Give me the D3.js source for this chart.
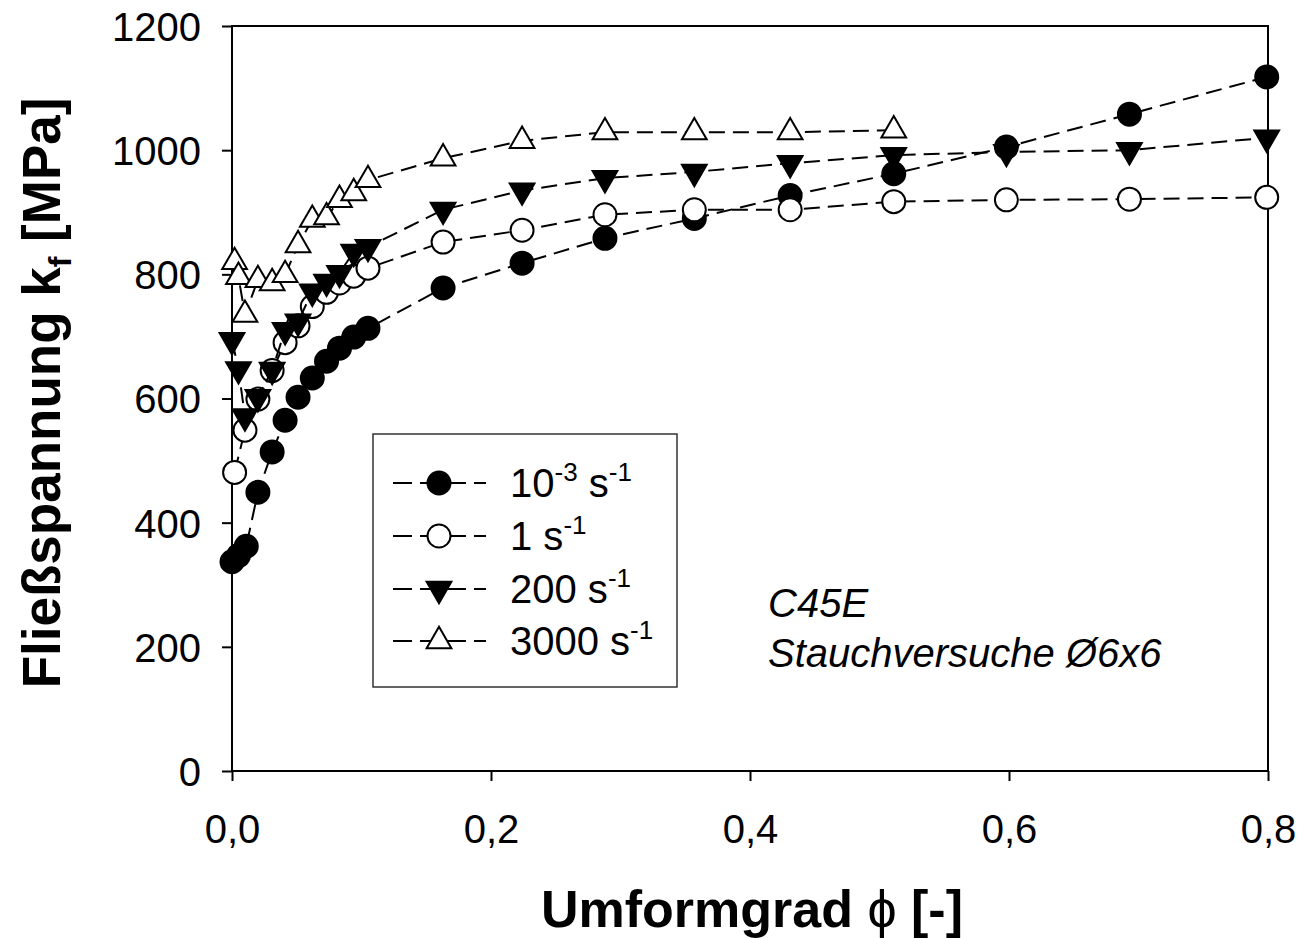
<!DOCTYPE html>
<html><head><meta charset="utf-8">
<script src="https://cdn.jsdelivr.net/npm/d3@7"></script>
<style>
body{margin:0;background:#fff}
svg{display:block}
text{font-family:"Liberation Sans",Arial,sans-serif;fill:#000}
</style>
</head><body>
<svg id="c" width="1302" height="938"></svg>
<script>
// ---- data ----
const xTicks=[0,0.2,0.4,0.6,0.8];
const xTickLabels=["0,0","0,2","0,4","0,6","0,8"];
const yTicks=[0,200,400,600,800,1000,1200];
const yTickLabels=["0","200","400","600","800","1000","1200"];

const legendBase=["10","1","200","3000"];
const legendExp=["-3","","",""];

const phiRate1=[0.000,0.005,0.011,0.020,0.031,0.041,0.051,0.062,0.073,0.083,0.094,0.105,0.163,0.224,0.288,0.357,0.431,0.511,0.598,0.693,0.799];
const kfRate1 =[337,347,362,449,514,565,602,633,660,681,699,713,778,818,858,890,927,962,1005,1058,1118];

const phiRate2=[0.002,0.010,0.020,0.031,0.041,0.051,0.062,0.073,0.083,0.094,0.105,0.163,0.224,0.288,0.357,0.431,0.511,0.598,0.693,0.799];
const kfRate2 =[481,549,599,645,690,717,748,771,786,797,810,852,871,896,904,904,917,920,921,924];

const phiRate3=[0.000,0.005,0.010,0.020,0.031,0.041,0.051,0.062,0.073,0.083,0.094,0.105,0.163,0.224,0.288,0.357,0.431,0.511,0.598,0.693,0.799];
const kfRate3 =[694,647,571,602,646,710,724,772,788,802,836,844,904,935,955,965,979,992,997,1000,1020];

const phiRate4=[0.002,0.005,0.010,0.020,0.031,0.041,0.051,0.062,0.073,0.083,0.094,0.105,0.163,0.224,0.288,0.357,0.431,0.511];
const kfRate4 =[820,796,735,791,786,799,847,888,892,920,931,952,987,1015,1029,1029,1029,1032];

// ---- drawing ----
const svg=d3.select("#c");
const x=d3.scaleLinear().domain([0,0.8]).range([232,1268]);
const y=d3.scaleLinear().domain([0,1200]).range([771,26]);

const series=[
  {phi:phiRate1,kf:kfRate1,shape:"circle",fill:"#000"},
  {phi:phiRate2,kf:kfRate2,shape:"circle",fill:"#fff"},
  {phi:phiRate3,kf:kfRate3,shape:"down",fill:"#000"},
  {phi:phiRate4,kf:kfRate4,shape:"up",fill:"#fff"}
];

const circleSym=d3.symbol().type(d3.symbolCircle).size(Math.PI*11.5*11.5);
const triSym=d3.symbol().type(d3.symbolTriangle).size(265);
function markerPath(shape){return shape==="circle"?circleSym():triSym();}
function markerTransform(shape,px,py){return `translate(${px},${py})`+(shape==="down"?" rotate(180)":"");}

// axes (ticks only), frame drawn separately
const gx=svg.append("g").attr("transform","translate(0,771)")
  .call(d3.axisBottom(x).tickValues(xTicks).tickFormat((d,i)=>xTickLabels[i]).tickSize(10).tickSizeOuter(0).tickPadding(34));
const gy=svg.append("g").attr("transform","translate(232,0)")
  .call(d3.axisLeft(y).tickValues(yTicks).tickFormat((d,i)=>yTickLabels[i]).tickSize(10).tickSizeOuter(0).tickPadding(21));
[gx,gy].forEach(g=>{
  g.select(".domain").remove();
  g.selectAll(".tick line").attr("stroke","#000").attr("stroke-width",2);
  g.selectAll(".tick text").attr("font-size",40).attr("font-family","Liberation Sans, Arial, sans-serif").attr("fill","#000");
});
gy.selectAll(".tick text").attr("dy","0.36em");

svg.append("rect").attr("x",x(0)).attr("y",y(1200)).attr("width",x(0.8)-x(0)).attr("height",y(0)-y(1200))
  .attr("fill","none").attr("stroke","#000").attr("stroke-width",2);

const line=d3.line().x(d=>x(d[0])).y(d=>y(d[1]));
series.forEach(s=>{
  const pts=s.phi.map((p,i)=>[p,s.kf[i]]);
  const g=svg.append("g");
  g.append("path").attr("d",line(pts)).attr("fill","none").attr("stroke","#000")
    .attr("stroke-width",2).attr("stroke-dasharray","16,8");
  g.selectAll("path.m").data(pts).join("path").attr("class","m")
    .attr("d",markerPath(s.shape))
    .attr("transform",d=>markerTransform(s.shape,x(d[0]),y(d[1])))
    .attr("fill",s.fill).attr("stroke","#000").attr("stroke-width",2);
});

// legend
const lg=svg.append("g");
lg.append("rect").attr("x",373).attr("y",434).attr("width",304).attr("height",253)
  .attr("fill","#fff").attr("stroke","#333").attr("stroke-width",1.5);
const rowY=[483,536,589,641];
series.forEach((s,i)=>{
  const ry=rowY[i];
  lg.append("line").attr("x1",393).attr("x2",486).attr("y1",ry).attr("y2",ry)
    .attr("stroke","#000").attr("stroke-width",2).attr("stroke-dasharray","19,8");
  lg.append("path").attr("d",markerPath(s.shape)).attr("transform",markerTransform(s.shape,439,ry))
    .attr("fill",s.fill).attr("stroke","#000").attr("stroke-width",2);
  const t=lg.append("text").attr("x",510).attr("y",ry+14).attr("font-size",40);
  t.append("tspan").text(legendBase[i]);
  if(legendExp[i]){t.append("tspan").attr("font-size",26).attr("dy",-16).text(legendExp[i]);
    t.append("tspan").attr("dy",16).text(" s");}
  else t.append("tspan").text(" s");
  t.append("tspan").attr("font-size",26).attr("dy",-16).text("-1");
});

// annotation
svg.append("text").attr("x",768).attr("y",617).attr("font-size",40).attr("font-style","italic").text("C45E");
svg.append("text").attr("x",768).attr("y",667).attr("font-size",40).attr("font-style","italic").text("Stauchversuche Ø6x6");

// axis titles
svg.append("text").attr("x",752).attr("y",927).attr("text-anchor","middle").attr("font-size",52).attr("font-weight","bold")
  .call(t=>{t.append("tspan").text("Umformgrad ");
    t.append("tspan").attr("font-weight","normal").text("ϕ");
    t.append("tspan").text(" [-]");});
svg.append("text").attr("transform","translate(60,393) rotate(-90)").attr("text-anchor","middle").attr("font-size",53).attr("font-weight","bold")
  .call(t=>{t.append("tspan").text("Fließspannung k");
    t.append("tspan").attr("font-size",32).attr("dy",11).text("f");
    t.append("tspan").attr("dy",-11).text(" [MPa]");});
</script>
</body></html>
